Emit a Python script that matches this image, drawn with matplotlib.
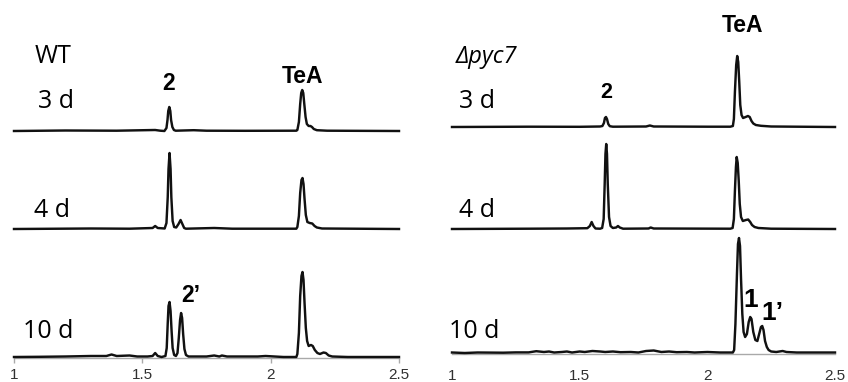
import matplotlib
matplotlib.use("Agg")
import matplotlib.pyplot as plt

# ---------------- data (retention time, min ; signal, arbitrary units) ----------------
wt_3d_t = [1.00, 1.20, 1.40, 1.55, 1.57, 1.586, 1.594, 1.598, 1.601, 1.605, 1.609, 1.612, 1.617, 1.623, 1.63,
           1.70, 1.75, 1.90, 2.10, 2.104, 2.110, 2.115, 2.119, 2.123, 2.127, 2.131, 2.136, 2.141, 2.148,
           2.155, 2.161, 2.168, 2.18, 2.22, 2.50]
wt_3d_y = [0, 0.5, 0.3, 1.0, 0.3, 0, 3, 11, 20, 24, 20, 11, 4, 1, 0.3,
           0.8, 0.3, 0.2, 0.3, 1, 9, 27, 38, 41, 38, 27, 14, 7, 5,
           5, 4, 2, 0.8, 0.3, 0]

wt_4d_t = [1.00, 1.30, 1.45, 1.54, 1.55, 1.56, 1.587, 1.594, 1.599, 1.602, 1.606, 1.610, 1.613, 1.618, 1.624,
           1.632, 1.641, 1.649, 1.656, 1.663, 1.67, 1.78, 1.85, 2.10, 2.104, 2.110, 2.115, 2.120, 2.124,
           2.128, 2.132, 2.137, 2.143, 2.152, 2.162, 2.171, 2.18, 2.20, 2.50]
wt_4d_y = [0, 0.5, 0.3, 1, 3, 1, 0.5, 6, 32, 60, 76, 60, 32, 8, 2,
           1.5, 5, 9, 5, 1, 0.3, 1, 0.3, 0.3, 2, 13, 36, 49, 51,
           45, 30, 14, 7, 6, 5.5, 3, 1.5, 0.5, 0]

wt_10d_t = [1.00, 1.10, 1.20, 1.30, 1.36, 1.38, 1.40, 1.45, 1.48, 1.52, 1.54, 1.55, 1.56, 1.575, 1.590,
            1.595, 1.599, 1.602, 1.606, 1.610, 1.614, 1.618, 1.624, 1.631, 1.637, 1.642, 1.647, 1.651,
            1.655, 1.659, 1.664, 1.670, 1.68, 1.75, 1.78, 1.80, 1.81, 1.83, 1.95, 1.98, 2.05, 2.100,
            2.104, 2.110, 2.115, 2.120, 2.124, 2.128, 2.132, 2.137, 2.142, 2.148, 2.157, 2.164, 2.172,
            2.182, 2.192, 2.206, 2.215, 2.226, 2.24, 2.30, 2.50]
wt_10d_y = [1, 1.2, 1.5, 2, 2, 3.5, 2, 2.5, 1.5, 1.5, 2, 5, 2, 1, 2,
            10, 35, 52, 56, 47, 27, 10, 3, 2, 5, 20, 38, 45,
            40, 24, 9, 3, 1.5, 1.5, 2.5, 1.5, 2.5, 1.5, 1.5, 2, 1, 1,
            4, 25, 62, 82, 86, 78, 55, 30, 17, 12, 13, 12, 8,
            5, 4, 5.5, 5, 2.5, 1.5, 1, 1]

ko_3d_t = [1.00, 1.30, 1.50, 1.58, 1.589, 1.595, 1.599, 1.603, 1.607, 1.612, 1.618, 1.63, 1.76, 1.775, 1.79,
           2.00, 2.09, 2.100, 2.104, 2.108, 2.113, 2.117, 2.121, 2.125, 2.129, 2.134, 2.140, 2.150,
           2.159, 2.166, 2.173, 2.18, 2.19, 2.21, 2.25, 2.50]
ko_3d_y = [0, 0.3, 0.2, 0.5, 1, 4, 9, 10, 8, 3, 0.8, 0.3, 0.5, 1.5, 0.5,
           0.3, 0.3, 1, 8, 35, 62, 71, 65, 45, 22, 12, 9, 10,
           11, 10, 6, 3.5, 2, 1.2, 0.5, 0]

ko_4d_t = [1.00, 1.30, 1.45, 1.53, 1.54, 1.547, 1.554, 1.562, 1.58, 1.588, 1.594, 1.598, 1.601, 1.604, 1.607,
           1.610, 1.615, 1.621, 1.63, 1.643, 1.650, 1.657, 1.67, 1.77, 1.778, 1.79, 2.09, 2.099, 2.104,
           2.108, 2.112, 2.115, 2.119, 2.123, 2.127, 2.132, 2.139, 2.151, 2.160, 2.168, 2.175, 2.185,
           2.20, 2.25, 2.50]
ko_4d_y = [0, 0.3, 0.5, 0.8, 3, 7, 3, 0.5, 0.3, 1, 10, 45, 75, 85, 75,
           45, 12, 3, 1, 1.5, 3, 1.5, 0.3, 0.5, 1.5, 0.5, 0.3, 1, 10,
           38, 62, 72, 66, 48, 25, 12, 8, 9, 9.5, 7, 4, 2,
           1, 0.3, 0]

ko_10d_t = [1.00, 1.05, 1.10, 1.20, 1.25, 1.30, 1.33, 1.36, 1.38, 1.40, 1.43, 1.45, 1.47, 1.50, 1.52,
            1.55, 1.58, 1.60, 1.63, 1.66, 1.70, 1.73, 1.76, 1.79, 1.82, 1.85, 1.88, 1.92, 1.95, 2.00,
            2.05, 2.09, 2.100, 2.105, 2.110, 2.116, 2.120, 2.124, 2.128, 2.132, 2.137, 2.142, 2.148,
            2.155, 2.162, 2.168, 2.173, 2.180, 2.188, 2.196, 2.203, 2.210, 2.215, 2.220, 2.226, 2.233,
            2.24, 2.25, 2.27, 2.295, 2.31, 2.35, 2.50]
ko_10d_y = [1.5, 1, 1.5, 1.3, 1.6, 1.6, 2.8, 2, 2.5, 1.5, 2, 2.5, 1.5, 2.5, 2,
            3, 2.5, 2, 2.5, 1.8, 2, 1.5, 3, 3.5, 2, 2.5, 1.8, 2, 1.5, 2,
            1.5, 1.5, 1.5, 4, 30, 80, 110, 116, 108, 75, 40, 22, 17,
            20, 32, 37, 35, 22, 14, 13, 20, 27, 28, 24, 13, 7,
            4, 2.5, 2, 3, 2, 1.5, 1.5]

day_labels = ["3 d", "4 d", "10 d"]
x_ticks = [1, 1.5, 2, 2.5]
x_tick_labels = ["1", "1.5", "2", "2.5"]

# ---------------- figure ----------------
W, H = 848, 382
fig = plt.figure(figsize=(W / 100, H / 100), dpi=100)

AXIS_GRAY = "#a9a9a9"
LBL_FONT = ["Open Sans", "DejaVu Sans"]
PK_FONT = ["Liberation Sans", "DejaVu Sans"]
TICK_FONT = ["Liberation Sans Narrow", "Liberation Sans", "DejaVu Sans"]


def make_axes(x0, x1, y_axis, ticks_visible):
    ax = fig.add_axes([x0 / W, (H - y_axis) / H, (x1 - x0) / W, y_axis / H])
    ax.set_xlim(1, 2.5)
    ax.set_ylim(0, y_axis)
    for s in ("top", "left", "right"):
        ax.spines[s].set_visible(False)
    ax.spines["bottom"].set_color(AXIS_GRAY)
    ax.spines["bottom"].set_linewidth(1.0)
    ax.set_yticks([])
    ax.set_xticks(x_ticks)
    ax.set_xticklabels(x_tick_labels, fontfamily=TICK_FONT, fontsize=11, color="#303030")
    if ticks_visible:
        ax.tick_params(axis="x", direction="out", length=3.6, width=1.0, color=AXIS_GRAY, pad=3.5)
    else:
        ax.tick_params(axis="x", length=0, pad=10.5)
    ax.patch.set_visible(False)
    return ax


axL = make_axes(14, 399, 358, True)
axR = make_axes(452, 835, 354, False)

LW = 1.75
for ax, traces, offsets in (
    (axL, [(wt_3d_t, wt_3d_y), (wt_4d_t, wt_4d_y), (wt_10d_t, wt_10d_y)], [227, 129, 0]),
    (axR, [(ko_3d_t, ko_3d_y), (ko_4d_t, ko_4d_y), (ko_10d_t, ko_10d_y)], [227, 125, 0]),
):
    for (t, y), off in zip(traces, offsets):
        ax.plot(t, [v + off for v in y], color="#111111", lw=LW, clip_on=False,
                solid_joinstyle="round", zorder=3)


def ftext(x, y, s, **kw):
    fig.text(x / W, 1 - y / H, s, **kw)


# left panel labels
ftext(35, 62.7, "WT", fontfamily=LBL_FONT, fontsize=18, va="baseline", ha="left")
ftext(38, 108, day_labels[0], fontfamily=LBL_FONT, fontsize=18, va="baseline", ha="left")
ftext(34, 217.5, day_labels[1], fontfamily=LBL_FONT, fontsize=18, va="baseline", ha="left")
ftext(23, 338, day_labels[2], fontfamily=LBL_FONT, fontsize=18, va="baseline", ha="left")
ftext(169, 90, "2", fontfamily=PK_FONT, fontsize=16.5, fontweight="bold", va="baseline", ha="center")
ftext(302, 83, "TeA", fontfamily=PK_FONT, fontsize=16.5, fontweight="bold", va="baseline", ha="center")
ftext(181, 302.5, "2\u2019", fontfamily=PK_FONT, fontsize=16.5, fontweight="bold", va="baseline", ha="left")

# right panel labels
ftext(456, 63.3, "\u0394pyc7", fontfamily=LBL_FONT, fontsize=17, style="italic", va="baseline", ha="left")
ftext(459, 108.3, day_labels[0], fontfamily=LBL_FONT, fontsize=18, va="baseline", ha="left")
ftext(606, 98.3, "2", fontfamily=PK_FONT, fontsize=15.5, fontweight="bold", va="baseline", ha="center")
ftext(742, 32.3, "TeA", fontfamily=PK_FONT, fontsize=16.5, fontweight="bold", va="baseline", ha="center")
ftext(459, 217, day_labels[1], fontfamily=LBL_FONT, fontsize=18, va="baseline", ha="left")
ftext(449, 337.7, day_labels[2], fontfamily=LBL_FONT, fontsize=18, va="baseline", ha="left")
ftext(751, 306.7, "1", fontfamily=PK_FONT, fontsize=19, fontweight="bold", va="baseline", ha="center")
ftext(761, 320, "1\u2019", fontfamily=PK_FONT, fontsize=19, fontweight="bold", va="baseline", ha="left")

fig.savefig("out.png", dpi=100)
